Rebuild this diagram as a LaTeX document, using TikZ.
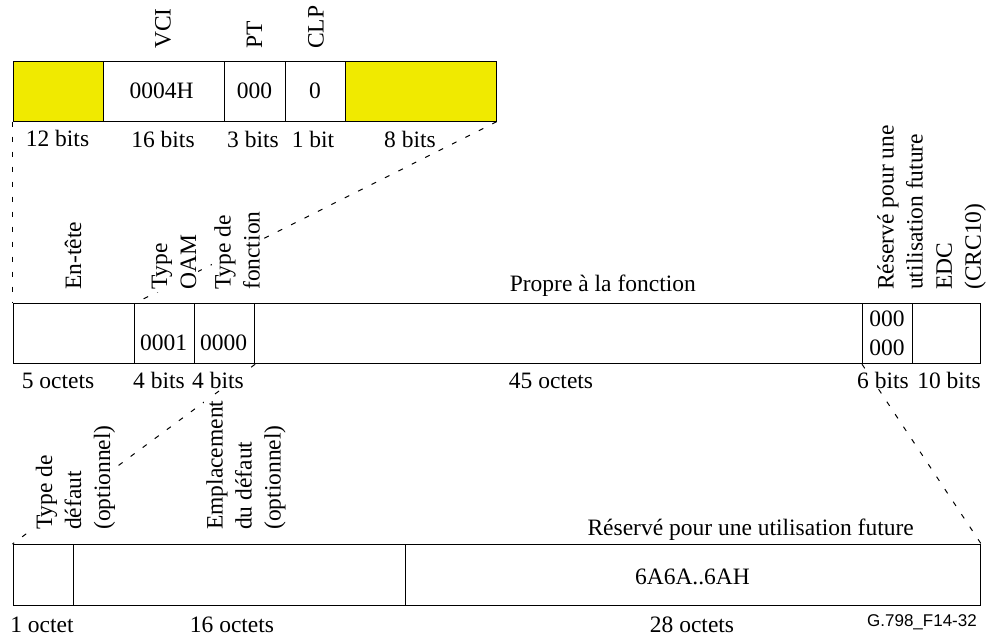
\documentclass[tikz,border=0pt]{standalone}
\usepackage{fontspec}
\setmainfont{Liberation Serif}
\newfontfamily\sansf{Liberation Sans}
\definecolor{fieldyellow}{RGB}{240,234,0}
\tikzset{
  cell/.style={draw=black, line width=1.2pt, rectangle, inner sep=0pt, anchor=north west},
  ycell/.style={cell, fill=fieldyellow},
  lab/.style={font=\fontsize{23.5}{29}\selectfont, inner sep=1pt, fill=white},
  rlab/.style={lab, rotate=90, anchor=west, align=left, inner sep=2pt},
  blab/.style={lab, anchor=base},
  expand/.style={line width=1pt, dash pattern=on 5pt off 10pt},
}
\begin{document}
\begin{tikzpicture}[x=1pt,y=-1pt]
\useasboundingbox (0,0) rectangle (986,637);
% top row (ATM cell header)
\node[ycell, minimum width=90.5pt, minimum height=60pt] (c1) at (12.5,60.5) {};
\node[cell, minimum width=121pt, minimum height=60pt] (c2) at (103,60.5) {};
\node[cell, minimum width=61pt, minimum height=60pt] (c3) at (224,60.5) {};
\node[cell, minimum width=60pt, minimum height=60pt] (c4) at (285,60.5) {};
\node[ycell, minimum width=150.5pt, minimum height=60pt] (c5) at (345,60.5) {};
% middle row
\node[cell, minimum width=121.5pt, minimum height=60pt] (m1) at (12.5,303) {};
\node[cell, minimum width=59.5pt, minimum height=60pt] (m2) at (134,303) {};
\node[cell, minimum width=60.5pt, minimum height=60pt] (m3) at (193.5,303) {};
\node[cell, minimum width=608pt, minimum height=60pt] (m4) at (254,303) {};
\node[cell, minimum width=50pt, minimum height=60pt] (m5) at (862,303) {};
\node[cell, minimum width=68pt, minimum height=60pt] (m6) at (912,303) {};
% bottom row
\node[cell, minimum width=60.5pt, minimum height=61pt] (b1) at (12.5,544) {};
\node[cell, minimum width=332pt, minimum height=61pt] (b2) at (73,544) {};
\node[cell, minimum width=575pt, minimum height=61pt] (b3) at (405,544) {};
% expansion lines
\draw[expand] (c1.south west) -- (m1.north west);
\draw[expand] (c5.south east) -- (m1.north east);
\draw[expand] (m3.south east) -- (b1.north west);
\draw[expand] (m5.south west) -- (b3.north east);
% top row texts
\node[lab] (t0004) at (161.5,91) {0004H};
\node[lab] (t000) at (254.5,91) {000};
\node[lab] (t0) at (315,91) {0};
\node[rlab] (lvci) at (163,51) {VCI};
\node[rlab] (lpt) at (254.5,51) {PT};
\node[rlab] (lclp) at (316,51) {CLP};
\node[blab] (w1) at (57.5,146.5) {12 bits};
\node[blab] (w2) at (163,147) {16 bits};
\node[blab] (w3) at (253,147) {3 bits};
\node[blab] (w4) at (313,147) {1 bit};
\node[blab] (w5) at (410,147) {8 bits};
% middle row texts
\node[rlab] (lent) at (73,292) {En-tête};
\node[rlab] (loam) at (174,292) {Type\\OAM};
\node[rlab] (lfct) at (237,292) {Type de\\fonction};
\node[lab, anchor=base east] (lprop) at (697,291) {Propre à la fonction};
\node[rlab] (lres) at (900,292) {Réservé pour une\\utilisation future};
\node[rlab] (ledc) at (961,292) {EDC\\(CRC10)};
\node[lab] (t0001) at (163.5,343) {0001};
\node[lab] (t0000) at (223.5,343) {0000};
\node[lab, align=center] (t000b) at (887,333) {000\\000};
\node[blab] (x1) at (58,388) {5 octets};
\node[blab] (x2) at (159,388) {4 bits};
\node[blab] (x3) at (218,388) {4 bits};
\node[blab] (x4) at (551,388) {45 octets};
\node[blab] (x5) at (883,388) {6 bits};
\node[blab] (x6) at (949,388) {10 bits};
% bottom row texts
\node[rlab] (ldef) at (75.5,532) {Type de\\défaut\\(optionnel)};
\node[rlab] (lemp) at (246,532) {Emplacement\\du défaut\\(optionnel)};
\node[lab, anchor=base east] (lres2) at (915,535) {Réservé pour une utilisation future};
\node[lab] (t6a) at (692.5,577) {6A6A..6AH};
\node[blab] (y1) at (42,632) {1 octet};
\node[blab] (y2) at (232,632) {16 octets};
\node[blab] (y3) at (692,632) {28 octets};
\node[anchor=base east, font=\sansf\fontsize{17}{19}\selectfont, inner sep=0pt] (fig) at (977,626) {G.798\_F14-32};
\end{tikzpicture}
\end{document}
